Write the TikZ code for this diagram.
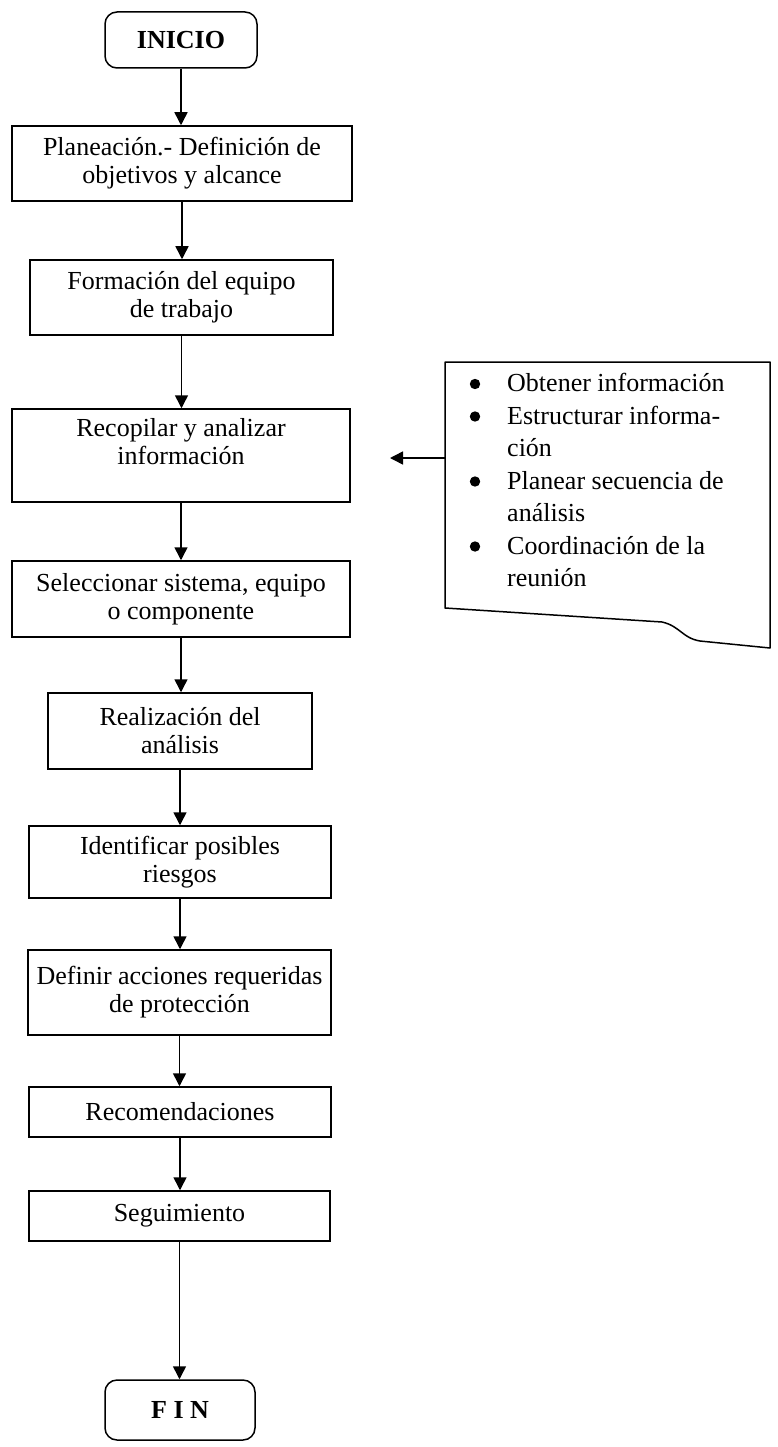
\documentclass[tikz,border=0pt]{standalone}
\usepackage{fontspec}
\setmainfont{Liberation Serif}
\usetikzlibrary{arrows.meta}
\begin{document}
\begin{tikzpicture}[x=1pt,y=-1pt,
  box/.style={draw, line width=1.5pt, align=center, inner sep=0pt, font=\fontsize{26}{28}\selectfont},
  term/.style={box, rounded corners=12pt, font=\bfseries\fontsize{26}{28}\selectfont},
  arr/.style={line width=1.5pt, -{Triangle[width=13pt,length=13pt]}},
  notetext/.style={anchor=north west, inner sep=0pt, font=\fontsize{26}{32.5}\selectfont},
  bul/.style={fill=black}]
\useasboundingbox (0,0) rectangle (778,1447);
\fill[white] (0,0) rectangle (778,1447);

\node[term, minimum width=152pt, minimum height=56pt] (inicio) at (181,40) {INICIO};
\node[box, minimum width=340pt, minimum height=75pt] (b1) at (182,163.5) {Planeación.- Definición de\\objetivos y alcance};
\node[box, minimum width=303pt, minimum height=75pt] (b2) at (181.5,297.5) {Formación del equipo\\de trabajo};
\node[box, minimum width=338pt, minimum height=93pt] (b3) at (181,455.5) {Recopilar y analizar\\información\\[1pt]};
\node[box, minimum width=338pt, minimum height=76pt] (b4) at (181,599) {Seleccionar sistema, equipo\\o componente};
\node[box, minimum width=264pt, minimum height=76pt] (b5) at (180,731) {Realización del\\análisis};
\node[box, minimum width=302pt, minimum height=72pt] (b6) at (180,862) {Identificar posibles\\riesgos};
\node[box, minimum width=303pt, minimum height=85pt] (b7) at (179.5,992.5) {Definir acciones requeridas\\de protección};
\node[box, minimum width=302pt, minimum height=50pt] (b8) at (180,1112) {Recomendaciones};
\node[box, minimum width=301pt, minimum height=50pt] (b9) at (179.5,1216) {Seguimiento};
\node[term, minimum width=150pt, minimum height=60pt] (fin) at (180,1410) {F I N};

\foreach \a/\b in {inicio/b1,b1/b2,b2/b3,b3/b4,b4/b5,b5/b6,b6/b7,b7/b8,b8/b9,b9/fin}
  \draw[arr] (\a.south) -- (\a.south |- \b.north);

% note with wavy bottom
\draw[line width=1.5pt, line join=round] (445,608) -- (445,362) -- (770,362) -- (770,648) -- (700,641)
  .. controls (682,638) and (680,626) .. (662,622) -- cycle;
\node[notetext] (note) at (507,369) {%
\begin{tabular}{@{}l@{}}
Obtener información\\
Estructurar informa-\\
ción\\
Planear secuencia de\\
análisis\\
Coordinación de la\\
reunión
\end{tabular}};
\foreach \y in {384,416.5,481.5,546.5}
  \fill[bul] (475,\y) circle (5.2pt);
\coordinate (noteL) at (445,458);
\coordinate (arrEnd) at (390,458);
\draw[arr] (noteL) -- (arrEnd);
\end{tikzpicture}
\end{document}
